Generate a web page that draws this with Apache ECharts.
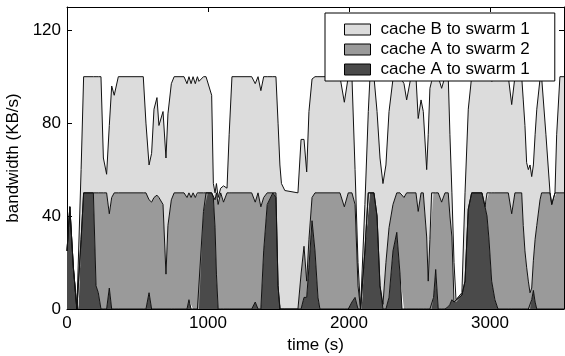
<!DOCTYPE html>
<html lang="en">
<head>
  <meta charset="UTF-8">
  <title>cache bandwidth</title>
  <style>
    body { margin: 0; padding: 0; background: #fff; }
    #chart { width: 565px; height: 356px; }
  </style>
</head>
<body>
  <div id="chart"></div>
  <script src="https://cdn.jsdelivr.net/npm/echarts@6/dist/echarts.min.js"></script>
  <script>
    // time samples (s)
    const times = [0, 20, 45, 70, 82, 100, 118, 187, 206, 222, 241, 258, 281, 300, 317, 335, 364, 541, 560, 582,
      600, 617, 638, 652, 681, 702, 716, 740, 760, 830, 851, 865, 880, 894, 910, 925, 936, 968, 986, 1000,
      1026, 1038, 1050, 1060, 1072, 1090, 1110, 1135, 1150, 1170, 1310, 1335, 1355, 1375, 1395, 1420, 1460, 1482, 1497, 1510,
      1521, 1545, 1638, 1660, 1681, 1700, 1716, 1738, 1759, 1780, 1794, 1936, 1967, 1995, 2021, 2043, 2064, 2082, 2090, 2113,
      2137, 2149, 2177, 2199, 2220, 2241, 2262, 2284, 2312, 2339, 2362, 2376, 2390, 2409, 2440, 2475, 2491, 2511, 2527, 2551,
      2562, 2574, 2586, 2600, 2615, 2633, 2657, 2681, 2704, 2716, 2730, 2745, 2759, 2801, 2823, 2846, 2870, 2943, 2965, 2979,
      2993, 3012, 3035, 3057, 3130, 3154, 3177, 3225, 3236, 3248, 3260, 3272, 3284, 3296, 3308, 3320, 3332, 3355, 3366, 3397,
      3426, 3438, 3461, 3473, 3496, 3525];

    // bandwidth per flow (KB/s), stacked bottom to top
    const cacheAtoSwarm1 = [25, 44, 18, 0, 0, 30, 50, 50, 10, 7, 0, 0, 0, 9, 0, 0, 0, 0, 0, 7,
      0, 0, 0, 0, 0, 0, 0, 0, 0, 0, 0, 4, 0, 0, 0, 0, 0, 42, 50, 50,
      50, 48, 35, 15, 0, 0, 0, 0, 0, 0, 0, 3, 0, 0, 25, 45, 50, 48, 10, 0,
      0, 0, 0, 0, 5, 5, 18, 38, 25, 5, 0, 0, 0, 0, 3, 5, 0, 0, 0, 25,
      50, 50, 50, 40, 10, 0, 0, 5, 25, 33, 15, 0, 0, 0, 0, 0, 0, 0, 0, 0,
      0, 0, 0, 5, 17, 0, 0, 0, 1, 2, 4, 3, 3, 6, 12, 43, 50, 50, 44, 40,
      30, 12, 4, 0, 0, 0, 0, 0, 0, 0, 0, 0, 0, 4, 8, 3, 0, 0, 0, 0,
      0, 0, 0, 0, 0, 0];
    const cacheAtoSwarm2 = [0, 0, 0, 0, 0, 0, 0, 0, 40, 43, 50, 50, 50, 32, 48, 50, 50, 50, 50, 40,
      46, 48, 49, 48, 45, 15, 36, 47, 50, 50, 48, 46, 48, 50, 48, 50, 50, 8, 0, 0,
      0, 2, 12, 35, 45, 50, 46, 50, 50, 50, 50, 43, 50, 44, 23, 5, 0, 2, 0, 0,
      0, 0, 0, 15, 22, 7, 12, 10, 25, 45, 50, 50, 44, 50, 47, 40, 10, 0, 0, 0,
      0, 0, 0, 0, 0, 2, 20, 30, 20, 17, 35, 50, 48, 50, 50, 50, 42, 50, 50, 31,
      12, 30, 50, 45, 33, 50, 46, 50, 49, 38, 27, 0, 0, 0, 0, 0, 0, 0, 0, 10,
      20, 38, 46, 50, 50, 41, 50, 50, 36, 25, 18, 12, 7, 5, 13, 27, 36, 47, 50, 50,
      50, 45, 50, 50, 50, 50];
    const cacheBtoSwarm1 = [0, 0, 0, 0, 0, 30, 50, 50, 50, 50, 50, 15, 8, 38, 48, 42, 50, 50, 30, 15,
      21, 38, 42, 31, 40, 50, 48, 50, 50, 50, 49, 50, 49, 50, 49, 50, 48, 50, 50, 50,
      42, 4, 3, 4, 3, 2, 7, 2, 25, 50, 50, 51, 50, 50, 52, 50, 50, 50, 70, 62,
      54, 51, 50, 58, 46, 47, 55, 51, 50, 50, 50, 50, 45, 50, 50, 15, 10, 0, 0, 20,
      35, 50, 50, 45, 55, 52, 42, 50, 54, 50, 50, 50, 49, 40, 50, 50, 40, 40, 35, 29,
      63, 65, 48, 50, 50, 50, 49, 50, 50, 35, 19, 17, 1, 1, 38, 43, 50, 50, 56, 50,
      50, 48, 49, 50, 50, 47, 50, 50, 54, 54, 45, 48, 55, 48, 41, 45, 50, 52, 50, 25,
      0, 0, 0, 25, 50, 50];

    const xTicks = [0, 1000, 2000, 3000];
    const yTicks = [0, 40, 80, 120];

    const font = 'Liberation Sans, Arial, sans-serif';
    const chart = echarts.init(document.getElementById('chart'));

    // value first, time second: the stack then sums the y dimension
    function pairs(vals) {
      return times.map((t, i) => [vals[i], t]);
    }

    function layer(name, vals, color) {
      return {
        name: name,
        type: 'line',
        stack: 'bw',
        data: pairs(vals),
        encode: { x: 1, y: 0 },
        symbol: 'none',
        animation: false,
        itemStyle: { color: color },
        lineStyle: { color: '#111', width: 1 },
        areaStyle: { color: color, opacity: 1 }
      };
    }

    function ticks() {
      return { show: true, inside: true, length: 5, lineStyle: { color: '#000', width: 1 } };
    }
    function axisLine() {
      return { show: true, onZero: false, lineStyle: { color: '#000', width: 1 } };
    }

    chart.setOption({
      animation: false,
      textStyle: { fontFamily: font },
      grid: { left: 67, right: 1, top: 7, bottom: 47, containLabel: false, outerBoundsMode: 'none' },
      legend: {
        orient: 'vertical',
        left: 325,
        top: 13,
        data: ['cache B to swarm 1', 'cache A to swarm 2', 'cache A to swarm 1'],
        icon: 'rect',
        itemWidth: 26,
        itemHeight: 11,
        itemGap: 3,
        padding: [8, 25, 3, 19],
        backgroundColor: '#fff',
        borderColor: '#000',
        borderWidth: 1,
        itemStyle: { borderColor: '#000', borderWidth: 1 },
        textStyle: { fontSize: 17, color: '#000', fontFamily: font, padding: [0, 0, 0, 5] }
      },
      xAxis: [{
        type: 'value',
        min: 0,
        max: 3525,
        interval: xTicks[1] - xTicks[0],
        name: 'time (s)',
        nameLocation: 'middle',
        nameGap: 26,
        nameTextStyle: { fontSize: 17, color: '#000' },
        axisLine: axisLine(),
        axisTick: ticks(),
        splitLine: { show: false },
        axisLabel: { fontSize: 17, color: '#000', margin: 6, showMaxLabel: false, formatter: v => String(v) }
      }, {
        type: 'value',
        position: 'top',
        min: 0,
        max: 3525,
        interval: xTicks[1] - xTicks[0],
        axisLine: axisLine(),
        axisTick: ticks(),
        splitLine: { show: false },
        axisLabel: { show: false }
      }],
      yAxis: [{
        type: 'value',
        min: 0,
        max: 130,
        interval: yTicks[1] - yTicks[0],
        name: 'bandwidth (KB/s)',
        nameLocation: 'middle',
        nameGap: 29,
        nameTextStyle: { fontSize: 17, color: '#000' },
        axisLine: axisLine(),
        axisTick: ticks(),
        splitLine: { show: false },
        axisLabel: { fontSize: 17, color: '#000', margin: 6, showMaxLabel: false, formatter: v => String(v) }
      }, {
        type: 'value',
        position: 'right',
        min: 0,
        max: 130,
        interval: yTicks[1] - yTicks[0],
        axisLine: axisLine(),
        axisTick: ticks(),
        splitLine: { show: false },
        axisLabel: { show: false }
      }],
      series: [
        layer('cache A to swarm 1', cacheAtoSwarm1, '#4a4a4a'),
        layer('cache A to swarm 2', cacheAtoSwarm2, '#9a9a9a'),
        layer('cache B to swarm 1', cacheBtoSwarm1, '#dcdcdc')
      ]
    });
  </script>
</body>
</html>
